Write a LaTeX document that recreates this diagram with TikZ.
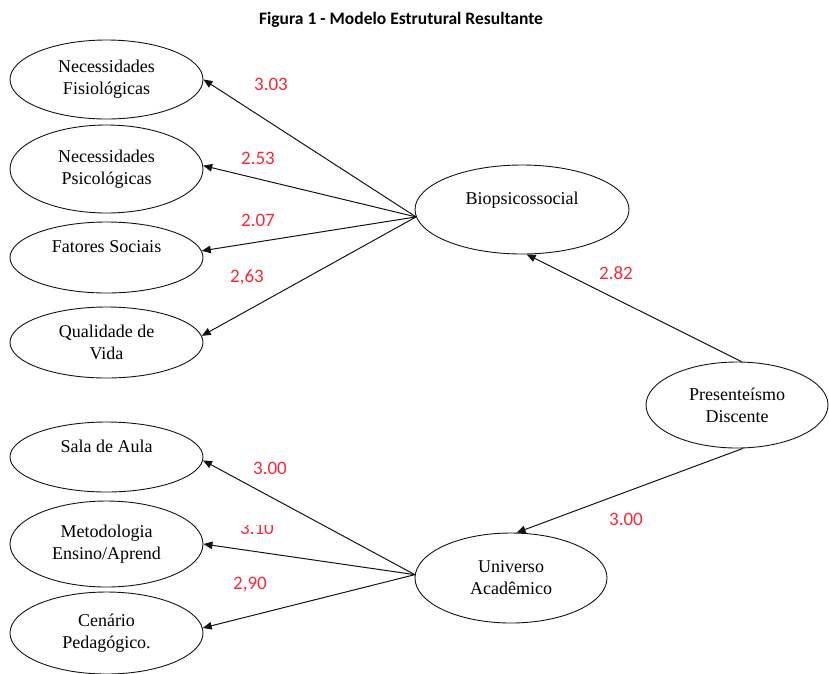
\documentclass[tikz,border=0pt]{standalone}
\usepackage{fontspec}
\setmainfont{Liberation Serif}
\newfontfamily\calfont{Carlito}
\usetikzlibrary{shapes.geometric,arrows.meta}
\definecolor{lblred}{RGB}{252,38,55}
\definecolor{inkc}{RGB}{20,20,20}
\begin{document}
\begin{tikzpicture}[x=1pt,y=-1pt,
  lat/.style={draw=inkc, ellipse, line width=0.9pt, inner sep=0pt, align=center,
    font=\fontsize{18}{22}\selectfont},
  arr/.style={draw=inkc, line width=1pt, -{Triangle[length=9pt,width=7.5pt]}},
  coef/.style={text=lblred, font=\calfont\fontsize{19}{20}\selectfont, inner sep=1pt},
  ttl/.style={font=\calfont\bfseries\fontsize{17.5}{20}\selectfont}]
\useasboundingbox (0,0) rectangle (829,673);
\node[ttl] (title) at (401,20) {Figura 1 - Modelo Estrutural Resultante};
% left indicators (top)
\node[lat, minimum width=193, minimum height=79] (fis) at (106.5,79.5) {Necessidades\\Fisiológicas};
\node[lat, minimum width=193, minimum height=88] (psi) at (106.5,169) {Necessidades\\Psicológicas};
\node[lat, minimum width=193, minimum height=71] (fat) at (106.5,257.5) {Fatores Sociais\\ \mbox{}};
\node[lat, minimum width=193, minimum height=71] (qual) at (106.5,342.5) {Qualidade de\\Vida};
% left indicators (bottom)
\node[lat, minimum width=193, minimum height=70] (sala) at (106.5,457) {Sala de Aula\\ \mbox{}};
\node[lat, minimum width=193, minimum height=86] (met) at (106.5,544) {Metodologia\\Ensino/Aprend};
\node[lat, minimum width=193, minimum height=82] (cen) at (106.5,633) {Cenário\\Pedagógico.};
% latent
\node[lat, minimum width=214, minimum height=89] (bio) at (522,209.5) {Biopsicossocial\\ \mbox{}};
\node[lat, minimum width=182, minimum height=86] (pres) at (737,405) {Presenteísmo\\Discente};
\node[lat, minimum width=192, minimum height=90] (uni) at (511,578) {Universo\\Acadêmico};
% arrows
\draw[arr] (bio.184) -- (fis.east);
\draw[arr] (bio.184) -- (psi.2);
\draw[arr] (bio.184) -- (fat.4);
\draw[arr] (bio.184) -- (qual.4);
\draw[arr] (uni.178) -- (sala.-2);
\draw[arr] (uni.178) -- (met.east);
\draw[arr] (uni.178) -- (cen.3);
\draw[arr] (pres.84) -- (bio.-84);
\draw[arr] (pres.-82) -- (uni.83);
% coefficients
\node[coef] (c1) at (271,84) {3.03};
\node[coef] (c2) at (258,158) {2.53};
\node[coef] (c3) at (258,220) {2.07};
\node[coef] (c4) at (247,277) {2,63};
\node[coef] (c5) at (616,273) {2.82};
\node[coef] (c6) at (626,519) {3.00};
\node[coef] (c7) at (270,468) {3.00};
\begin{scope}
\clip (220,525) rectangle (300,545);
\node[coef] (c8) at (257,528) {3.10};
\end{scope}
\node[coef] (c9) at (250,585) {2,90};
\end{tikzpicture}
\end{document}
